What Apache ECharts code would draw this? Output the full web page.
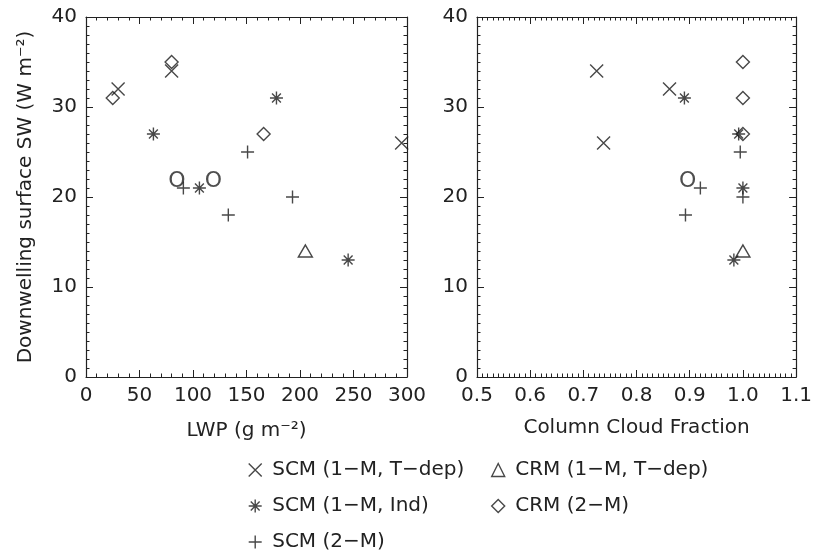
<!DOCTYPE html>
<html>
<head>
<meta charset="utf-8">
<script src="https://cdn.jsdelivr.net/npm/echarts@6/dist/echarts.min.js"></script>
<style>
  html, body { margin: 0; padding: 0; background: #fff; }
  #chart { width: 815px; height: 555px; }
</style>
</head>
<body>
<div id="chart"></div>
<script>
// ---- Data: liquid water path (g m-2), column cloud fraction, downwelling SW (W m-2) ----
const seriesNames = ['SCM (1−M, T−dep)', 'SCM (1−M, Ind)', 'SCM (2−M)', 'CRM (1−M, T−dep)', 'CRM (2−M)'];

const lwpScmTdep = [30, 80, 295];
const cfScmTdep  = [0.862, 0.725, 0.738];
const swScmTdep  = [32, 34, 26];

const lwpScmInd = [63, 178, 106, 245];
const cfScmInd  = [0.992, 0.890, 1.0, 0.983];
const swScmInd  = [27, 31, 21, 13];

const lwpScm2M = [151, 91, 133, 193];
const cfScm2M  = [0.995, 0.920, 0.892, 1.0];
const swScm2M  = [25, 21, 18, 20];

const lwpCrmTdep = [205];
const cfCrmTdep  = [1.0];
const swCrmTdep  = [14];

const lwpCrm2M = [25, 80, 166];
const cfCrm2M  = [1.0, 1.0, 1.0];
const swCrm2M  = [31, 35, 27];

// observed values, marked with the letter O
const lwpObs = [85, 119];
const swObsLwp = [21.8, 21.8];
const cfObs = [0.896];
const swObsCf = [21.8];

const lwpTicks = { min: 0, max: 300, interval: 50 };
const cfTicks  = { min: 0.5, max: 1.1, interval: 0.1 };
const swTicks  = { min: 0, max: 40, interval: 10 };

// ---- Symbols (outline-only, line drawn) ----
const SYM = {
  cross: 'path://M0,0L10,10M10,0L0,10',
  star: 'path://M5,0L5,10M0,5L10,5M1.6,1.6L8.4,8.4M8.4,1.6L1.6,8.4',
  plus: 'path://M5,0L5,10M0,5L10,5',
  tri: 'path://M0,10L5,0L10,10Z',
  diamond: 'path://M5,0L10,5L5,10L0,5Z'
};
const INK = '#222';
const FONT = 'DejaVu Sans';

function pairs(xs, ys) { return xs.map((x, i) => [x, ys[i]]); }

const groups = [
  { name: seriesNames[0], sym: SYM.cross, size: 13, lwp: lwpScmTdep, cf: cfScmTdep, sw: swScmTdep },
  { name: seriesNames[1], sym: SYM.star, size: 13, lwp: lwpScmInd, cf: cfScmInd, sw: swScmInd },
  { name: seriesNames[2], sym: SYM.plus, size: 13, lwp: lwpScm2M, cf: cfScm2M, sw: swScm2M },
  { name: seriesNames[3], sym: SYM.tri, size: [14, 12], lwp: lwpCrmTdep, cf: cfCrmTdep, sw: swCrmTdep },
  { name: seriesNames[4], sym: SYM.diamond, size: 13, lwp: lwpCrm2M, cf: cfCrm2M, sw: swCrm2M }
];

const markStyle = { color: 'transparent', borderColor: '#1a1a1a', borderWidth: 1.4 };

const series = [];
groups.forEach(g => {
  [[0, g.lwp], [2, g.cf]].forEach(([ax, xs]) => {
    series.push({
      type: 'scatter', name: g.name, xAxisIndex: ax, yAxisIndex: ax,
      symbol: g.sym, symbolSize: g.size, itemStyle: markStyle,
      emphasis: { disabled: true }, silent: true,
      data: pairs(xs, g.sw)
    });
  });
});
[[0, lwpObs, swObsLwp], [2, cfObs, swObsCf]].forEach(([ax, xs, ys]) => {
  series.push({
    type: 'scatter', name: 'Observed', xAxisIndex: ax, yAxisIndex: ax,
    symbol: 'circle', symbolSize: 1, itemStyle: { color: 'transparent' },
    silent: true,
    label: { show: true, position: 'inside', formatter: 'O', fontFamily: FONT, fontSize: 22, color: INK },
    data: pairs(xs, ys)
  });
});

const labelStyle = { color: INK, fontFamily: FONT, fontSize: 20 };

function axis(gridIndex, pos, range, opts) {
  const main = pos === 'bottom' || pos === 'left';
  return Object.assign({
    type: 'value', gridIndex, position: pos,
    min: range.min, max: range.max, interval: range.interval,
    axisLine: { show: true, onZero: false, lineStyle: { color: INK, width: 1.2 } },
    axisTick: { show: true, inside: true, length: 7, lineStyle: { color: INK, width: 1 } },
    minorTick: { show: true, splitNumber: opts.minor, length: 3.5, lineStyle: { color: INK, width: 1 } },
    splitLine: { show: false },
    axisLabel: Object.assign({ show: main, margin: 9, showMinLabel: true, showMaxLabel: true,
      formatter: opts.fmt || (v => String(v)) }, labelStyle),
    nameTextStyle: Object.assign({}, labelStyle)
  }, opts.extra || {});
}

const legendBase = {
  orient: 'vertical', top: 460, padding: 0, height: 95,
  itemWidth: 24, itemHeight: 13, itemGap: 16, selectedMode: false,
  itemStyle: { color: 'transparent', borderColor: '#1a1a1a', borderWidth: 1.4 },
  textStyle: Object.assign({ lineHeight: 20 }, labelStyle)
};

const option = {
  animation: false,
  backgroundColor: '#fff',
  grid: [
    { left: 86, top: 17, width: 321, height: 360 },
    { left: 477, top: 17, width: 323, height: 360 }
  ],
  xAxis: [
    axis(0, 'bottom', lwpTicks, { minor: 5, extra: { name: 'LWP (g m⁻²)', nameLocation: 'middle', nameGap: 44 } }),
    axis(0, 'top', lwpTicks, { minor: 5 }),
    axis(1, 'bottom', cfTicks, { minor: 10, fmt: v => v.toFixed(1), extra: { name: 'Column Cloud Fraction', nameLocation: 'middle', nameGap: 41 } }),
    axis(1, 'top', cfTicks, { minor: 10 })
  ],
  yAxis: [
    axis(0, 'left', swTicks, { minor: 10, extra: { name: 'Downwelling surface SW (W m⁻²)', nameLocation: 'middle', nameRotate: 90, nameGap: 50 } }),
    axis(0, 'right', swTicks, { minor: 10 }),
    axis(1, 'left', swTicks, { minor: 10 }),
    axis(1, 'right', swTicks, { minor: 10 })
  ],
  legend: [
    Object.assign({ data: seriesNames.slice(0, 3), left: 248 }, legendBase),
    Object.assign({ data: seriesNames.slice(3), left: 491 }, legendBase)
  ],
  series
};

const chart = echarts.init(document.getElementById('chart'), null, { renderer: 'canvas' });
chart.setOption(option);
</script>
</body>
</html>
